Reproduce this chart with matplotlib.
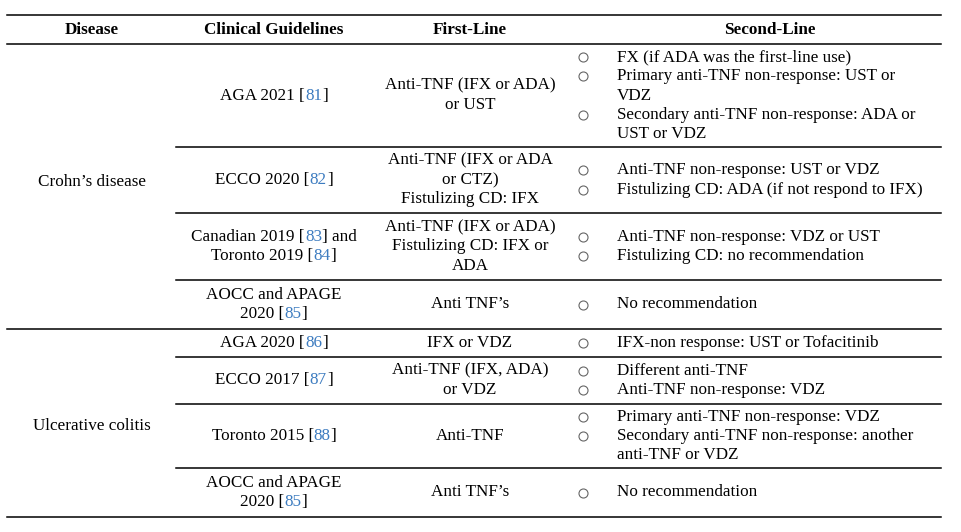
import matplotlib
matplotlib.use("Agg")
import matplotlib.pyplot as plt

# table content ------------------------------------------------------------
headers = ["Disease", "Clinical Guidelines", "First-Line", "Second-Line"]

diseases = ["Crohn\u2019s disease", "Ulcerative colitis"]
rows_per_disease = [4, 4]

# guideline cells: list of lines, each line a list of (text, is_ref)
guidelines = [
    [[("AGA 2021 [", 0), ("81", 1), ("]", 0)]],
    [[("ECCO 2020 [", 0), ("82", 1), ("]", 0)]],
    [[("Canadian 2019 [", 0), ("83", 1), ("] and", 0)],
     [("Toronto 2019 [", 0), ("84", 1), ("]", 0)]],
    [[("AOCC and APAGE", 0)], [("2020 [", 0), ("85", 1), ("]", 0)]],
    [[("AGA 2020 [", 0), ("86", 1), ("]", 0)]],
    [[("ECCO 2017 [", 0), ("87", 1), ("]", 0)]],
    [[("Toronto 2015 [", 0), ("88", 1), ("]", 0)]],
    [[("AOCC and APAGE", 0)], [("2020 [", 0), ("85", 1), ("]", 0)]],
]

first_line = [
    ["Anti-TNF (IFX or ADA)", "or UST"],
    ["Anti-TNF (IFX or ADA", "or CTZ)", "Fistulizing CD: IFX"],
    ["Anti-TNF (IFX or ADA)", "Fistulizing CD: IFX or", "ADA"],
    ["Anti TNF\u2019s"],
    ["IFX or VDZ"],
    ["Anti-TNF (IFX, ADA)", "or VDZ"],
    ["Anti-TNF"],
    ["Anti TNF\u2019s"],
]

# second-line cells: list of bullet items, each item a list of lines
second_line = [
    [["FX (if ADA was the first-line use)"],
     ["Primary anti-TNF non-response: UST or", "VDZ"],
     ["Secondary anti-TNF non-response: ADA or", "UST or VDZ"]],
    [["Anti-TNF non-response: UST or VDZ"],
     ["Fistulizing CD: ADA (if not respond to IFX)"]],
    [["Anti-TNF non-response: VDZ or UST"],
     ["Fistulizing CD: no recommendation"]],
    [["No recommendation"]],
    [["IFX-non response: UST or Tofacitinib"]],
    [["Different anti-TNF"], ["Anti-TNF non-response: VDZ"]],
    [["Primary anti-TNF non-response: VDZ"],
     ["Secondary anti-TNF non-response: another", "anti-TNF or VDZ"]],
    [["No recommendation"]],
]

# layout (pixels) ----------------------------------------------------------
W, H = 961, 532
top_rule, head_rule = 15, 44
row_edges = [44, 147, 213, 280, 329, 357, 404, 468, 517]
left, right, sub_left = 7, 941, 176
col_x = [92, 274, 470]
bullet_x, item_x = 583, 617
line_h = 19.3
fs = 12.3
ref_color = "#3d7cc0"
plt.rcParams["font.family"] = ["Liberation Serif", "DejaVu Serif"]

fig = plt.figure(figsize=(W / 100, H / 100), dpi=100)
ax = fig.add_axes([0, 0, 1, 1])
ax.set_xlim(0, W)
ax.set_ylim(H, 0)
ax.axis("off")
renderer = fig.canvas.get_renderer()


def text_w(s):
    t = ax.text(0, 0, s, fontsize=fs)
    w = t.get_window_extent(renderer).width
    t.remove()
    return w


def rich_line(xc, y, parts):
    full = "".join(s for s, _ in parts)
    x0 = xc - text_w(full) / 2
    prefix = ""
    for s, ref in parts:
        ax.text(x0 + (text_w(prefix) if prefix else 0), y, s, fontsize=fs,
                va="center", ha="left", color=ref_color if ref else "black")
        prefix += s


def line_ys(center, n):
    return [center + (i - (n - 1) / 2) * line_h for i in range(n)]


# rules
for y in (top_rule, head_rule, row_edges[4], row_edges[-1]):
    ax.plot([left, right], [y, y], color="black", lw=1.1)
for i in (1, 2, 3, 5, 6, 7):
    ax.plot([sub_left, right], [row_edges[i]] * 2, color="black", lw=1.1)

# header
hy = (top_rule + head_rule) / 2
for x, h in zip(col_x + [770], headers):
    ax.text(x, hy, h, fontsize=fs, fontweight="bold", ha="center", va="center")

# disease labels
disease_y = [182, 426]
for d, y in zip(diseases, disease_y):
    ax.text(col_x[0], y, d, fontsize=fs, ha="center", va="center")

for r in range(len(guidelines)):
    yc = (row_edges[r] + row_edges[r + 1]) / 2
    for y, parts in zip(line_ys(yc, len(guidelines[r])), guidelines[r]):
        rich_line(col_x[1], y, parts)
    for y, s in zip(line_ys(yc, len(first_line[r])), first_line[r]):
        ax.text(col_x[2], y, s, fontsize=fs, ha="center", va="center")
    n = sum(len(it) for it in second_line[r])
    ys = line_ys(yc, n)
    k = 0
    for item in second_line[r]:
        ax.plot(bullet_x, ys[k], marker="o", ms=6.5, mfc="white",
                mec="#666666", mew=0.8)
        for s in item:
            ax.text(item_x, ys[k], s, fontsize=fs, ha="left", va="center")
            k += 1

fig.savefig("out.png", dpi=100)
